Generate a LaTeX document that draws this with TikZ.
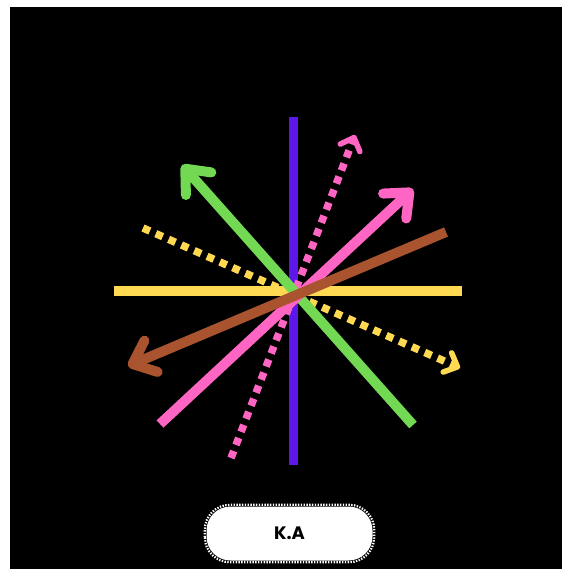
\documentclass[tikz,border=0pt]{standalone}
\usepackage{fontspec}
\newfontfamily\kafont{Poppins}
\usetikzlibrary{arrows.meta}
\definecolor{cviolet}{HTML}{5E17EB}
\definecolor{cyellow}{HTML}{FFD952}
\definecolor{cgreen}{HTML}{74D952}
\definecolor{cpink}{HTML}{FF66C4}
\definecolor{cbrown}{HTML}{A9532F}
\tikzset{
  solidline/.style={line width=10pt, line cap=butt},
  bigtip/.style={-{Straight Barb[length=20pt,width=34pt,round]}},
  dotline/.style={line width=7.5pt, dash pattern=on 7.5pt off 6.5pt, line cap=butt},
  smalltip/.style={-{Straight Barb[length=11pt,width=21pt,round,line width=5.5pt]}},
  tagbox/.style={fill=white, rounded corners=24pt, minimum width=166pt, minimum height=54pt, inner sep=0pt,
    font=\kafont\bfseries\fontsize{18pt}{20pt}\selectfont, text=black},
}
\begin{document}
\begin{tikzpicture}[x=1pt,y=-1pt]
\useasboundingbox (0,0) rectangle (563,569);
\fill[white] (0,0) rectangle (563,569);
\fill[black] (10,7) rectangle (561.5,569);
% coordinates
\coordinate (vtop) at (293,117);
\coordinate (vbot) at (293,465);
\coordinate (hl) at (114,291);
\coordinate (hr) at (462,291);
\coordinate (ydS) at (143,228);
\coordinate (ydE) at (460,368);
\coordinate (pdS) at (231,458);
\coordinate (pdE) at (355,135);
\coordinate (gS) at (413,425);
\coordinate (gE) at (182,165);
\coordinate (pS) at (160,424);
\coordinate (pE) at (413,189);
\coordinate (bS) at (446,232);
\coordinate (bE) at (128,366);
% lines
\draw[solidline, cviolet, line width=9pt] (vtop) -- (vbot);
\draw[solidline, cyellow] (hl) -- (hr);
\draw[dotline, cyellow, smalltip] (ydS) -- (ydE);
\draw[dotline, cpink, smalltip] (pdS) -- (pdE);
\draw[solidline, cgreen, bigtip] (gS) -- (gE);
\draw[solidline, cpink, bigtip] (pS) -- (pE);
\draw[solidline, cbrown, bigtip] (bS) -- (bE);
% label
\node[tagbox] (ka) at (289.5,533.5) {K.A};
\draw[white, line width=2.2pt, dash pattern=on 1.4pt off 1.4pt, rounded corners=25pt]
  ([xshift=-1.5pt,yshift=-1.5pt]ka.south west) rectangle ([xshift=1.5pt,yshift=1.5pt]ka.north east);
\end{tikzpicture}
\end{document}
